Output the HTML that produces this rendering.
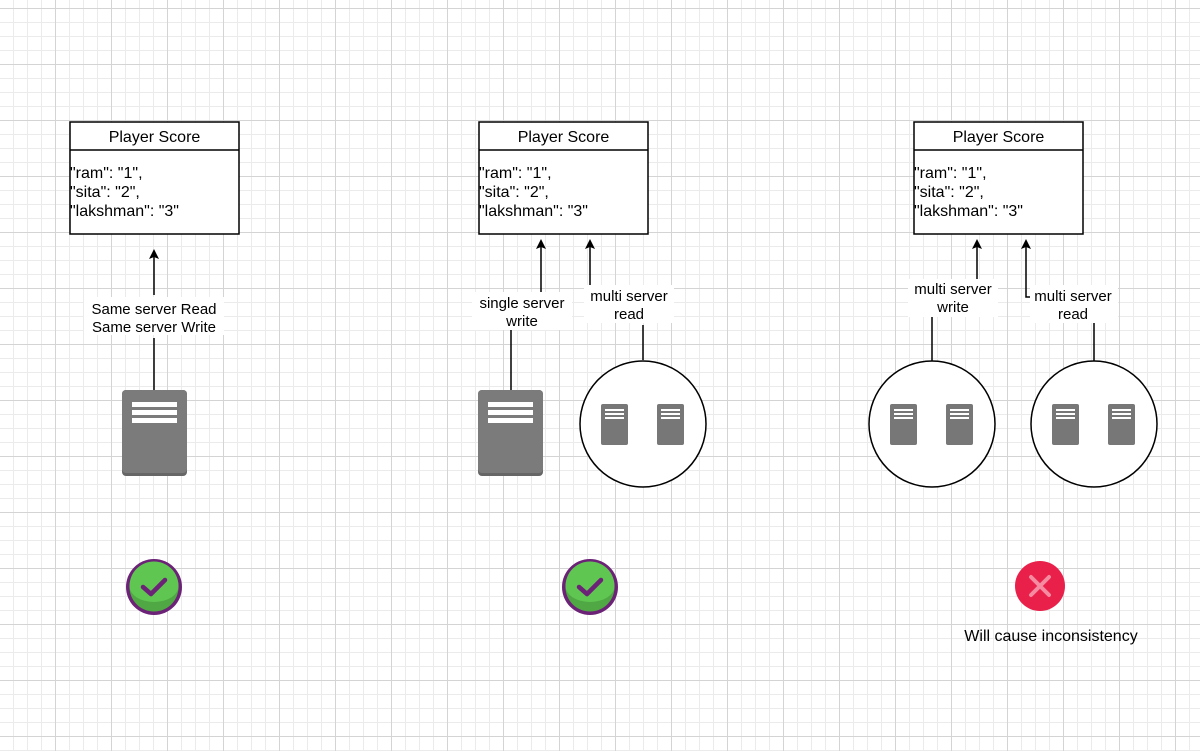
<!DOCTYPE html>
<html><head><meta charset="utf-8"><style>
body{margin:0;width:1200px;height:751px;overflow:hidden;background:#fff;font-family:"Liberation Sans",Arial,sans-serif}
</style></head><body>
<svg width="1200" height="751" xmlns="http://www.w3.org/2000/svg" font-family="Liberation Sans, Arial, sans-serif">
<defs>
<pattern id="mn" width="14" height="14" patternUnits="userSpaceOnUse" x="-1" y="8"><path d="M0 0.5H14M0.5 0V14" stroke="#ebebeb" stroke-width="1" fill="none"/></pattern>
<pattern id="mj" width="56" height="56" patternUnits="userSpaceOnUse" x="-1" y="8"><path d="M0 0.5H56M0.5 0V56" stroke="#d4d4d4" stroke-width="1" fill="none"/></pattern>
<g id="big"><rect x="0" y="0" width="65" height="86" rx="4" fill="#666"/><rect x="0" y="0" width="65" height="83" rx="4" fill="#7b7b7b"/><rect x="10" y="12" width="45" height="5" fill="#fff"/><rect x="10" y="20" width="45" height="5" fill="#fff"/><rect x="10" y="28" width="45" height="5" fill="#fff"/></g>
<g id="sm"><rect x="0" y="0" width="27" height="41" rx="2" fill="#777"/><rect x="4" y="5" width="19" height="2" fill="#fff"/><rect x="4" y="9" width="19" height="2" fill="#fff"/><rect x="4" y="13" width="19" height="2" fill="#fff"/></g>
<g id="ok"><circle r="28" fill="#6c2377"/><circle r="24.5" fill="#4fa843"/><path d="M-24.5 -1A24.5 24.5 0 0 1 24.5 -1A24.5 16 0 0 1 -24.5 -1Z" fill="#5fc652"/><circle r="24.5" fill="none"/><path d="M-11 0L-3 7L11 -7" stroke="#6c2377" stroke-width="4.5" fill="none" stroke-linecap="round" stroke-linejoin="round"/></g>
<path id="ah" d="M-5 10L0 0L5 10L0 8Z" fill="#000"/>
</defs>
<rect width="1200" height="751" fill="url(#mn)"/>
<rect width="1200" height="751" fill="url(#mj)"/>
<g fill="#fff" stroke="#000" stroke-width="1.5">
<rect x="70" y="122" width="169" height="112"/><line x1="70" y1="150" x2="239" y2="150"/>
<rect x="479" y="122" width="169" height="112"/><line x1="479" y1="150" x2="648" y2="150"/>
<rect x="914" y="122" width="169" height="112"/><line x1="914" y1="150" x2="1083" y2="150"/>
</g>
<g font-size="16" fill="#000">
<text x="154.5" y="142" text-anchor="middle">Player Score</text>
<text x="70" y="178">"ram": "1",</text><text x="70" y="197">"sita": "2",</text><text x="70" y="216">"lakshman": "3"</text>
<text x="563.5" y="142" text-anchor="middle">Player Score</text>
<text x="479" y="178">"ram": "1",</text><text x="479" y="197">"sita": "2",</text><text x="479" y="216">"lakshman": "3"</text>
<text x="998.5" y="142" text-anchor="middle">Player Score</text>
<text x="914" y="178">"ram": "1",</text><text x="914" y="197">"sita": "2",</text><text x="914" y="216">"lakshman": "3"</text>
</g>
<g stroke="#000" stroke-width="1.5" fill="none">
<line x1="154" y1="390" x2="154" y2="338"/><line x1="154" y1="295" x2="154" y2="256"/>
<line x1="511" y1="390" x2="511" y2="330"/><line x1="541" y1="292" x2="541" y2="246"/>
<line x1="643" y1="360" x2="643" y2="325"/><line x1="590" y1="285" x2="590" y2="246"/>
<line x1="932" y1="361" x2="932" y2="317"/><line x1="977" y1="280" x2="977" y2="246"/>
<line x1="1094" y1="361" x2="1094" y2="323"/><polyline points="1031,297 1026,297 1026,246"/>
</g>
<use href="#ah" x="154" y="249"/>
<use href="#ah" x="541" y="239"/>
<use href="#ah" x="590" y="239"/>
<use href="#ah" x="977" y="239"/>
<use href="#ah" x="1026" y="239"/>
<g font-size="15" fill="#000" text-anchor="middle">
<rect x="84" y="297" width="140" height="38" fill="#fff"/>
<text x="154" y="314">Same server Read</text><text x="154" y="332">Same server Write</text>
<rect x="472" y="292" width="100" height="38" fill="#fff"/>
<text x="522" y="308">single server</text><text x="522" y="326">write</text>
<rect x="584" y="285" width="90" height="38" fill="#fff"/>
<text x="629" y="301">multi server</text><text x="629" y="319">read</text>
<rect x="908" y="279" width="90" height="38" fill="#fff"/>
<text x="953" y="294">multi server</text><text x="953" y="312">write</text>
<rect x="1030" y="285" width="88" height="38" fill="#fff"/>
<text x="1073" y="301">multi server</text><text x="1073" y="319">read</text>
<text x="1051" y="641" font-size="16">Will cause inconsistency</text>
</g>
<use href="#big" x="122" y="390"/>
<use href="#big" x="478" y="390"/>
<g fill="#fff" stroke="#000" stroke-width="1.5">
<circle cx="643" cy="424" r="63"/><circle cx="932" cy="424" r="63"/><circle cx="1094" cy="424" r="63"/>
</g>
<use href="#sm" x="601" y="404"/><use href="#sm" x="657" y="404"/>
<use href="#sm" x="890" y="404"/><use href="#sm" x="946" y="404"/>
<use href="#sm" x="1052" y="404"/><use href="#sm" x="1108" y="404"/>
<use href="#ok" x="154" y="587"/>
<use href="#ok" x="590" y="587"/>
<circle cx="1040" cy="586" r="25" fill="#e8204a"/>
<path d="M1031 577L1049 595M1049 577L1031 595" stroke="#f58aa0" stroke-width="4" stroke-linecap="round"/>
</svg>
</body></html>
